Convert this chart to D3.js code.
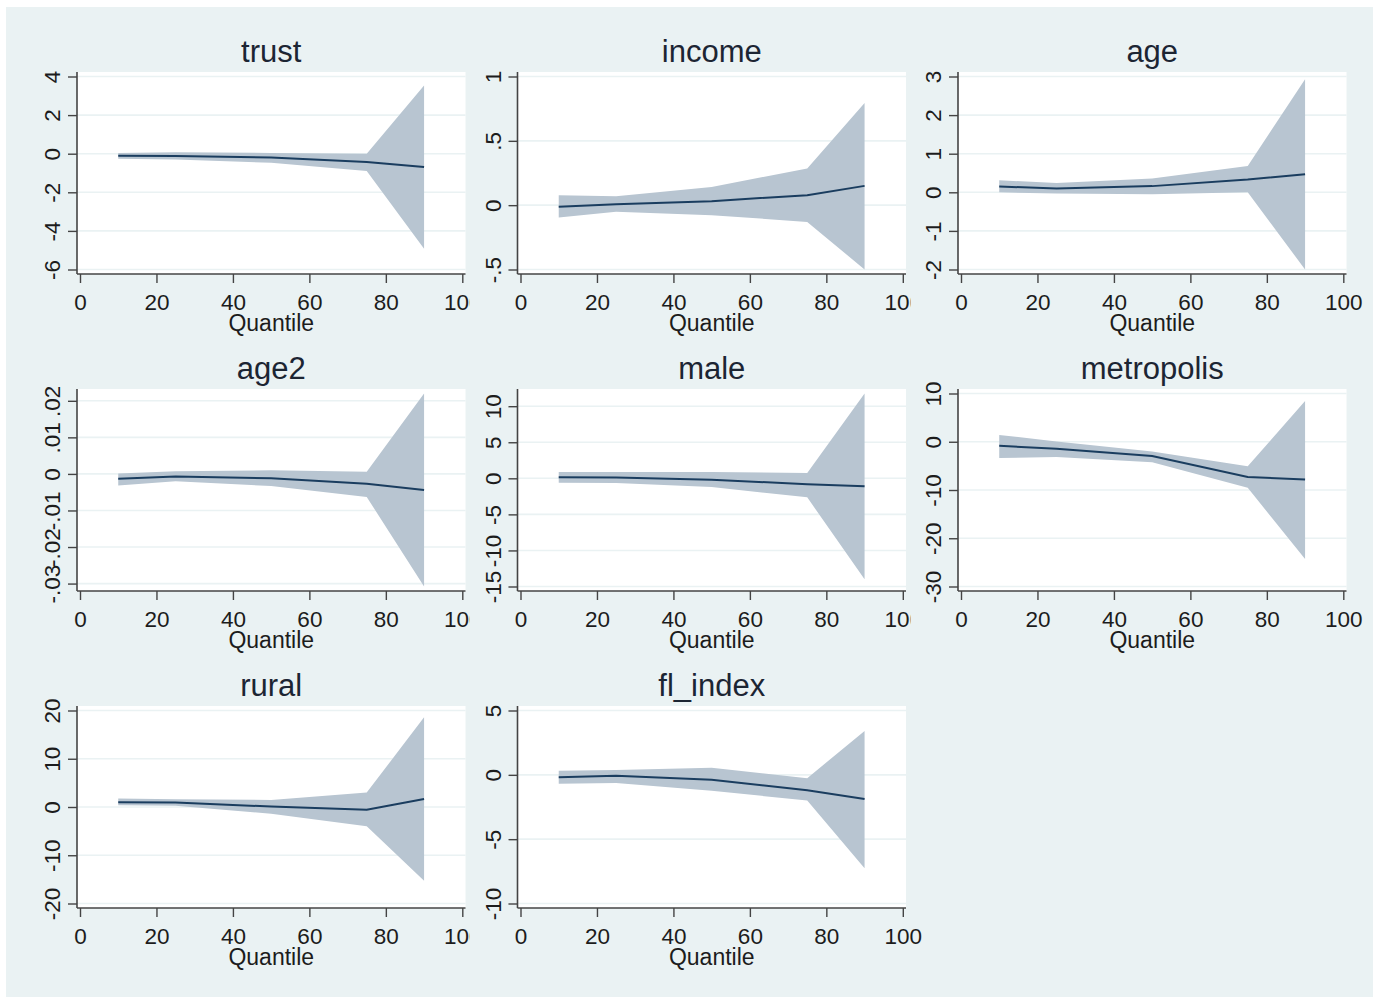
<!DOCTYPE html>
<html>
<head>
<meta charset="utf-8">
<script src="https://cdn.jsdelivr.net/npm/d3@7"></script>
<style>
  html, body { margin: 0; padding: 0; background: #fff; }
  svg { display: block; font-family: "Liberation Sans", Arial, sans-serif; }
</style>
</head>
<body>
<div id="chart"></div>
<script>
// quantile regression coefficients with confidence bands
const quantiles = [10, 25, 50, 75, 90];
const panelNames = ['trust', 'income', 'age', 'age2', 'male', 'metropolis', 'rural', 'fl_index'];

const coefs = [
  [-0.10, -0.12, -0.20, -0.43, -0.69],
  [-0.013, 0.008, 0.031, 0.078, 0.15],
  [0.15, 0.10, 0.16, 0.33, 0.47],
  [-0.0013, -0.0007, -0.0012, -0.0027, -0.0044],
  [0.14, 0.10, -0.19, -0.83, -1.11],
  [-0.84, -1.46, -2.97, -7.29, -7.84],
  [1.0, 0.93, 0.1, -0.58, 1.68],
  [-0.18, -0.08, -0.38, -1.2, -1.87]
];
const lowerBounds = [
  [-0.26, -0.30, -0.47, -0.90, -4.93],
  [-0.096, -0.052, -0.078, -0.13, -0.50],
  [0.0, -0.03, -0.05, 0.0, -2.0],
  [-0.0032, -0.0020, -0.0033, -0.0063, -0.0308],
  [-0.6, -0.65, -1.2, -2.64, -14.0],
  [-3.38, -3.17, -4.27, -9.55, -24.3],
  [0.38, 0.24, -1.4, -4.0, -15.3],
  [-0.69, -0.64, -1.23, -2.0, -7.26]
];
const upperBounds = [
  [0.04, 0.07, 0.04, 0.0, 3.54],
  [0.078, 0.07, 0.142, 0.285, 0.795],
  [0.31, 0.24, 0.36, 0.68, 2.93],
  [0.0001, 0.0007, 0.0010, 0.0006, 0.0220],
  [0.88, 0.88, 0.88, 0.74, 11.76],
  [1.42, 0.05, -2.0, -5.1, 8.42],
  [1.75, 1.6, 1.47, 2.98, 18.6],
  [0.31, 0.38, 0.56, -0.26, 3.41]
];

const xTicks = [0, 20, 40, 60, 80, 100];
const yTicks = [
  [-6, -4, -2, 0, 2, 4],
  [-0.5, 0, 0.5, 1],
  [-2, -1, 0, 1, 2, 3],
  [-0.03, -0.02, -0.01, 0, 0.01, 0.02],
  [-15, -10, -5, 0, 5, 10],
  [-30, -20, -10, 0, 10],
  [-20, -10, 0, 10, 20],
  [-10, -5, 0, 5]
];
const yTickLabels = [
  ['-6', '-4', '-2', '0', '2', '4'],
  ['-.5', '0', '.5', '1'],
  ['-2', '-1', '0', '1', '2', '3'],
  ['-.03', '-.02', '-.01', '0', '.01', '.02'],
  ['-15', '-10', '-5', '0', '5', '10'],
  ['-30', '-20', '-10', '0', '10'],
  ['-20', '-10', '0', '10', '20'],
  ['-10', '-5', '0', '5']
];

const W = 1379, H = 998;
const bg = '#eaf2f3';
const colStep = 440.5, rowStep = 317;
const axisX0 = 77, plotTop0 = 72;
const plotW = 388.5, plotH = 202;

const svg = d3.select('#chart').append('svg')
  .attr('width', W).attr('height', H);

svg.append('rect').attr('x', 6).attr('y', 7).attr('width', 1367).attr('height', 990).attr('fill', bg);

panelNames.forEach((name, i) => {
  const col = i % 3, row = Math.floor(i / 3);
  const ax = axisX0 + col * colStep;
  const top = plotTop0 + row * rowStep;
  const bottom = top + plotH;

  const g = svg.append('g');

  // graph region of this panel (covers overflow of the panel on its left)
  g.append('rect')
    .attr('x', ax - 47.5).attr('y', top - 45)
    .attr('width', colStep).attr('height', rowStep)
    .attr('fill', bg);

  g.append('rect')
    .attr('x', ax).attr('y', top).attr('width', plotW).attr('height', plotH)
    .attr('fill', '#fff');

  const x = d3.scaleLinear().domain([0, 100]).range([ax + 3, ax + plotW - 3.2]);
  const ext = d3.extent(yTicks[i].concat(lowerBounds[i], upperBounds[i]));
  const y = d3.scaleLinear().domain(ext).range([bottom - 4.5, top + 4.5]);

  // gridlines
  g.append('g').selectAll('line').data(yTicks[i]).join('line')
    .attr('x1', ax).attr('x2', ax + plotW)
    .attr('y1', d => y(d)).attr('y2', d => y(d))
    .attr('stroke', bg).attr('stroke-width', 1.6);

  const pts = quantiles.map((q, k) => ({ q, c: coefs[i][k], lo: lowerBounds[i][k], hi: upperBounds[i][k] }));

  g.append('path').datum(pts)
    .attr('d', d3.area().x(d => x(d.q)).y0(d => y(d.lo)).y1(d => y(d.hi)))
    .attr('fill', '#b8c5d1');

  g.append('path').datum(pts)
    .attr('d', d3.line().x(d => x(d.q)).y(d => y(d.c)))
    .attr('fill', 'none').attr('stroke', '#1a3d5f').attr('stroke-width', 2);

  // y axis
  const yAxis = g.append('g').attr('transform', `translate(${ax},0)`)
    .call(d3.axisLeft(y).tickValues(yTicks[i]).tickFormat((d, k) => yTickLabels[i][k]).tickSize(9).tickSizeOuter(0));
  yAxis.select('.domain').remove();
  yAxis.selectAll('.tick line').attr('stroke', '#444').attr('stroke-width', 1.4);
  yAxis.selectAll('.tick text')
    .attr('x', null).attr('dy', null)
    .attr('text-anchor', 'middle')
    .attr('transform', 'translate(-17,0) rotate(-90)')
    .attr('fill', '#1c1c1c').style('font-size', '22.5px').style('font-family', '"Liberation Sans", Arial, sans-serif');
  g.append('line').attr('x1', ax).attr('x2', ax).attr('y1', top).attr('y2', bottom)
    .attr('stroke', '#444').attr('stroke-width', 1.6);

  // x axis
  const xAxis = g.append('g').attr('transform', `translate(0,${bottom})`)
    .call(d3.axisBottom(x).tickValues(xTicks).tickSize(9).tickSizeOuter(0));
  xAxis.select('.domain').remove();
  xAxis.selectAll('.tick line').attr('stroke', '#444').attr('stroke-width', 1.4);
  xAxis.selectAll('.tick text')
    .attr('y', 36).attr('dy', null)
    .attr('fill', '#1c1c1c').style('font-size', '22.5px').style('font-family', '"Liberation Sans", Arial, sans-serif');
  g.append('line').attr('x1', ax).attr('x2', ax + plotW).attr('y1', bottom).attr('y2', bottom)
    .attr('stroke', '#444').attr('stroke-width', 1.6);

  g.append('text')
    .attr('x', ax + plotW / 2).attr('y', bottom + 57)
    .attr('text-anchor', 'middle').attr('fill', '#1c1c1c')
    .style('font-size', '23px')
    .text('Quantile');

  g.append('text')
    .attr('x', ax + plotW / 2).attr('y', top - 10)
    .attr('text-anchor', 'middle').attr('fill', '#1c2533')
    .style('font-size', '31px')
    .text(name);
});
</script>
</body>
</html>
